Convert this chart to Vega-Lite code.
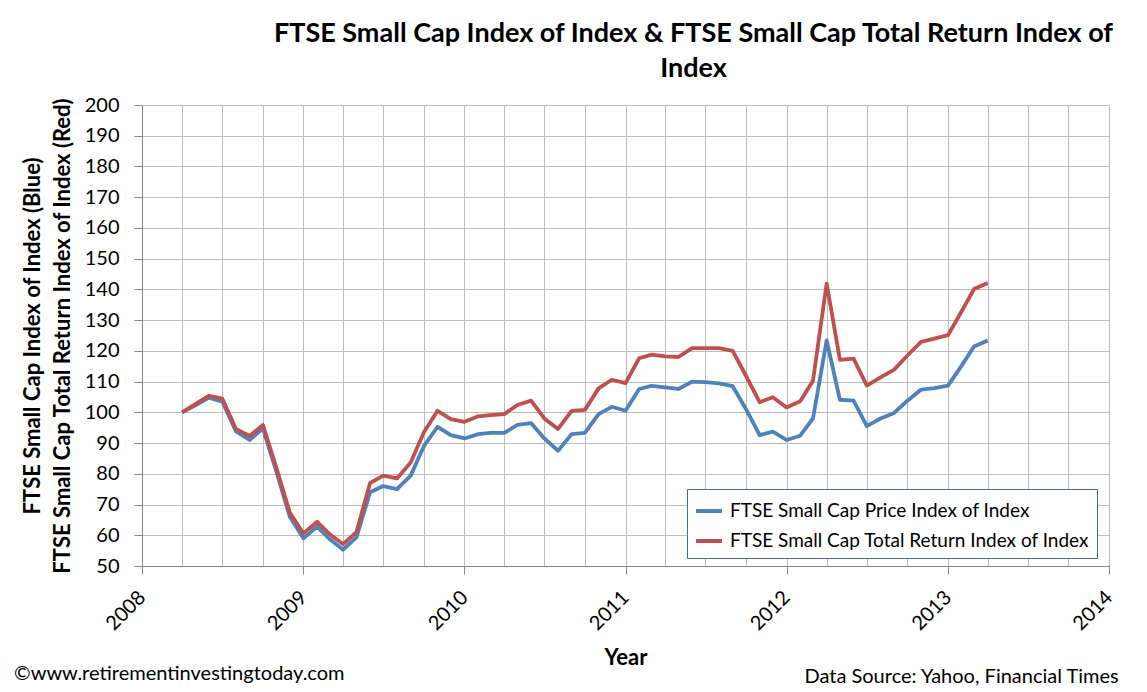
{
  "$schema": "https://vega.github.io/schema/vega-lite/v6.json",
  "width": 967,
  "height": 461,
  "autosize": {"type": "none"},
  "padding": {"left": 142, "top": 105, "right": 38, "bottom": 126},
  "background": "white",
  "config": {
    "font": "Lato",
    "view": {"stroke": null},
    "axis": {"labelColor": "#000000", "titleColor": "#000000", "domainColor": "#868686", "tickColor": "#868686", "gridColor": "#BDBDBD", "gridWidth": 1}
  },
  "title": {
    "text": ["FTSE Small Cap Index of Index & FTSE Small Cap Total Return Index of", "Index"],
    "fontSize": 27,
    "fontWeight": "bold",
    "lineHeight": 35,
    "anchor": "middle",
    "frame": "group",
    "dx": 68,
    "offset": 12,
    "color": "#000000"
  },
  "resolve": {"axis": {"x": "independent", "y": "independent"}},
  "layer": [
    {
      "data": {
        "values": [
          {"date": "2008-04-01", "price": 100, "total_return": 100},
          {"date": "2008-05-01", "price": 102.3, "total_return": 102.7},
          {"date": "2008-06-01", "price": 104.8, "total_return": 105.4},
          {"date": "2008-07-01", "price": 103.5, "total_return": 104.5},
          {"date": "2008-08-01", "price": 93.8, "total_return": 94.6},
          {"date": "2008-09-01", "price": 91, "total_return": 92.3},
          {"date": "2008-10-01", "price": 94.8, "total_return": 95.9},
          {"date": "2008-11-01", "price": 80.5, "total_return": 81.8},
          {"date": "2008-12-01", "price": 66, "total_return": 67.4},
          {"date": "2009-01-01", "price": 59, "total_return": 60.6},
          {"date": "2009-02-01", "price": 62.8, "total_return": 64.4},
          {"date": "2009-03-01", "price": 58.8, "total_return": 60.4},
          {"date": "2009-04-01", "price": 55.3, "total_return": 57.1},
          {"date": "2009-05-01", "price": 59.3, "total_return": 61},
          {"date": "2009-06-01", "price": 74, "total_return": 77},
          {"date": "2009-07-01", "price": 76, "total_return": 79.4},
          {"date": "2009-08-01", "price": 75, "total_return": 78.5},
          {"date": "2009-09-01", "price": 79.4, "total_return": 83.7},
          {"date": "2009-10-01", "price": 89, "total_return": 93.5},
          {"date": "2009-11-01", "price": 95.3, "total_return": 100.5},
          {"date": "2009-12-01", "price": 92.6, "total_return": 97.8},
          {"date": "2010-01-01", "price": 91.5, "total_return": 96.9},
          {"date": "2010-02-01", "price": 92.9, "total_return": 98.7},
          {"date": "2010-03-01", "price": 93.3, "total_return": 99.1},
          {"date": "2010-04-01", "price": 93.3, "total_return": 99.4},
          {"date": "2010-05-01", "price": 95.9, "total_return": 102.4},
          {"date": "2010-06-01", "price": 96.5, "total_return": 103.8},
          {"date": "2010-07-01", "price": 91.5, "total_return": 98},
          {"date": "2010-08-01", "price": 87.5, "total_return": 94.6},
          {"date": "2010-09-01", "price": 92.9, "total_return": 100.5},
          {"date": "2010-10-01", "price": 93.3, "total_return": 100.8},
          {"date": "2010-11-01", "price": 99.4, "total_return": 107.8},
          {"date": "2010-12-01", "price": 101.8, "total_return": 110.6},
          {"date": "2011-01-01", "price": 100.5, "total_return": 109.5},
          {"date": "2011-02-01", "price": 107.6, "total_return": 117.6},
          {"date": "2011-03-01", "price": 108.6, "total_return": 118.8},
          {"date": "2011-04-01", "price": 108.1, "total_return": 118.2},
          {"date": "2011-05-01", "price": 107.6, "total_return": 118},
          {"date": "2011-06-01", "price": 110, "total_return": 120.9},
          {"date": "2011-07-01", "price": 109.8, "total_return": 120.9},
          {"date": "2011-08-01", "price": 109.4, "total_return": 120.9},
          {"date": "2011-09-01", "price": 108.5, "total_return": 120},
          {"date": "2011-10-01", "price": 101.1, "total_return": 111.9},
          {"date": "2011-11-01", "price": 92.6, "total_return": 103.3},
          {"date": "2011-12-01", "price": 93.7, "total_return": 104.9},
          {"date": "2012-01-01", "price": 91, "total_return": 101.6},
          {"date": "2012-02-01", "price": 92.4, "total_return": 103.6},
          {"date": "2012-03-01", "price": 98, "total_return": 110.3},
          {"date": "2012-04-01", "price": 123.4, "total_return": 141.9},
          {"date": "2012-05-01", "price": 104.1, "total_return": 117.1},
          {"date": "2012-06-01", "price": 103.8, "total_return": 117.5},
          {"date": "2012-07-01", "price": 95.5, "total_return": 108.7},
          {"date": "2012-08-01", "price": 98, "total_return": 111.4},
          {"date": "2012-09-01", "price": 99.8, "total_return": 113.9},
          {"date": "2012-10-01", "price": 103.8, "total_return": 118.5},
          {"date": "2012-11-01", "price": 107.4, "total_return": 122.9},
          {"date": "2012-12-01", "price": 107.9, "total_return": 124},
          {"date": "2013-01-01", "price": 108.7, "total_return": 125.1},
          {"date": "2013-02-01", "price": 115.2, "total_return": 132.9},
          {"date": "2013-03-01", "price": 121.4, "total_return": 140.1},
          {"date": "2013-04-01", "price": 123.4, "total_return": 142.1}
        ]
      },
      "transform": [{"fold": ["price", "total_return"], "as": ["series", "value"]}],
      "mark": {"type": "line", "strokeWidth": 3.8, "strokeJoin": "round"},
      "encoding": {
        "x": {
          "field": "date",
          "type": "temporal",
          "scale": {"type": "utc", "domain": [{"year": 2008, "month": 1, "date": 1, "utc": true}, {"year": 2014, "month": 1, "date": 1, "utc": true}], "nice": false},
          "axis": {
            "orient": "bottom",
            "grid": false,
            "tickCount": {"interval": "year", "step": 1},
            "format": "%Y",
            "labelAngle": -45,
            "labelAlign": "right",
            "labelBaseline": "middle",
            "labelFontSize": 20,
            "labelPadding": 20,
            "labelOverlap": false,
            "tickSize": 8,
            "title": "Year",
            "titleFontSize": 22,
            "titleFontWeight": "bold",
            "titlePadding": 14
          }
        },
        "y": {
          "field": "value",
          "type": "quantitative",
          "scale": {"domain": [50, 200], "nice": false, "zero": false},
          "axis": {
            "values": [50, 60, 70, 80, 90, 100, 110, 120, 130, 140, 150, 160, 170, 180, 190, 200],
            "grid": true,
            "labelFontSize": 20,
            "labelPadding": 15,
            "labelOverlap": false,
            "labelBound": false,
            "labelFlush": false,
            "tickSize": 8,
            "title": ["FTSE Small Cap Index of Index (Blue)", "FTSE Small Cap Total Return Index of Index (Red)"],
            "titleFontSize": 22,
            "titleFontWeight": "bold",
            "titleLineHeight": 30,
            "titlePadding": 10
          }
        },
        "color": {
          "field": "series",
          "type": "nominal",
          "scale": {"domain": ["price", "total_return"], "range": ["#4F81BD", "#C0504D"]},
          "legend": {
            "title": null,
            "orient": "none",
            "legendX": 545,
            "legendY": 384,
            "padding": 7,
            "fillColor": "white",
            "strokeColor": "#4A6A8F",
            "symbolType": "stroke",
            "symbolSize": 676,
            "symbolStrokeWidth": 4,
            "labelFontSize": 19,
            "labelColor": "#000000",
            "labelOffset": 6,
            "labelLimit": 500,
            "rowPadding": 5,
            "labelExpr": "datum.label == 'price' ? 'FTSE Small Cap Price Index of Index' : 'FTSE Small Cap Total Return Index of Index'"
          }
        }
      }
    },
    {
      "data": {"values": [{"note": "©www.retirementinvestingtoday.com"}]},
      "mark": {"type": "text", "align": "left", "baseline": "middle", "fontSize": 20, "color": "#000000"},
      "encoding": {
        "x": {
          "datum": {"year": 2007, "month": 3, "date": 17, "utc": true},
          "type": "temporal",
          "axis": {
            "orient": "top",
            "grid": true,
            "tickCount": {"interval": "month", "step": 3},
            "labels": false,
            "ticks": false,
            "domain": false,
            "title": null
          }
        },
        "y": {"datum": 15, "type": "quantitative", "axis": null},
        "text": {"field": "note"}
      }
    },
    {
      "data": {"values": [{"note": "Data Source: Yahoo, Financial Times"}]},
      "mark": {"type": "text", "align": "right", "baseline": "middle", "fontSize": 20, "color": "#000000"},
      "encoding": {
        "x": {"datum": {"year": 2014, "month": 1, "date": 23, "utc": true}, "type": "temporal", "axis": null},
        "y": {"datum": 14, "type": "quantitative", "axis": null},
        "text": {"field": "note"}
      }
    }
  ]
}
